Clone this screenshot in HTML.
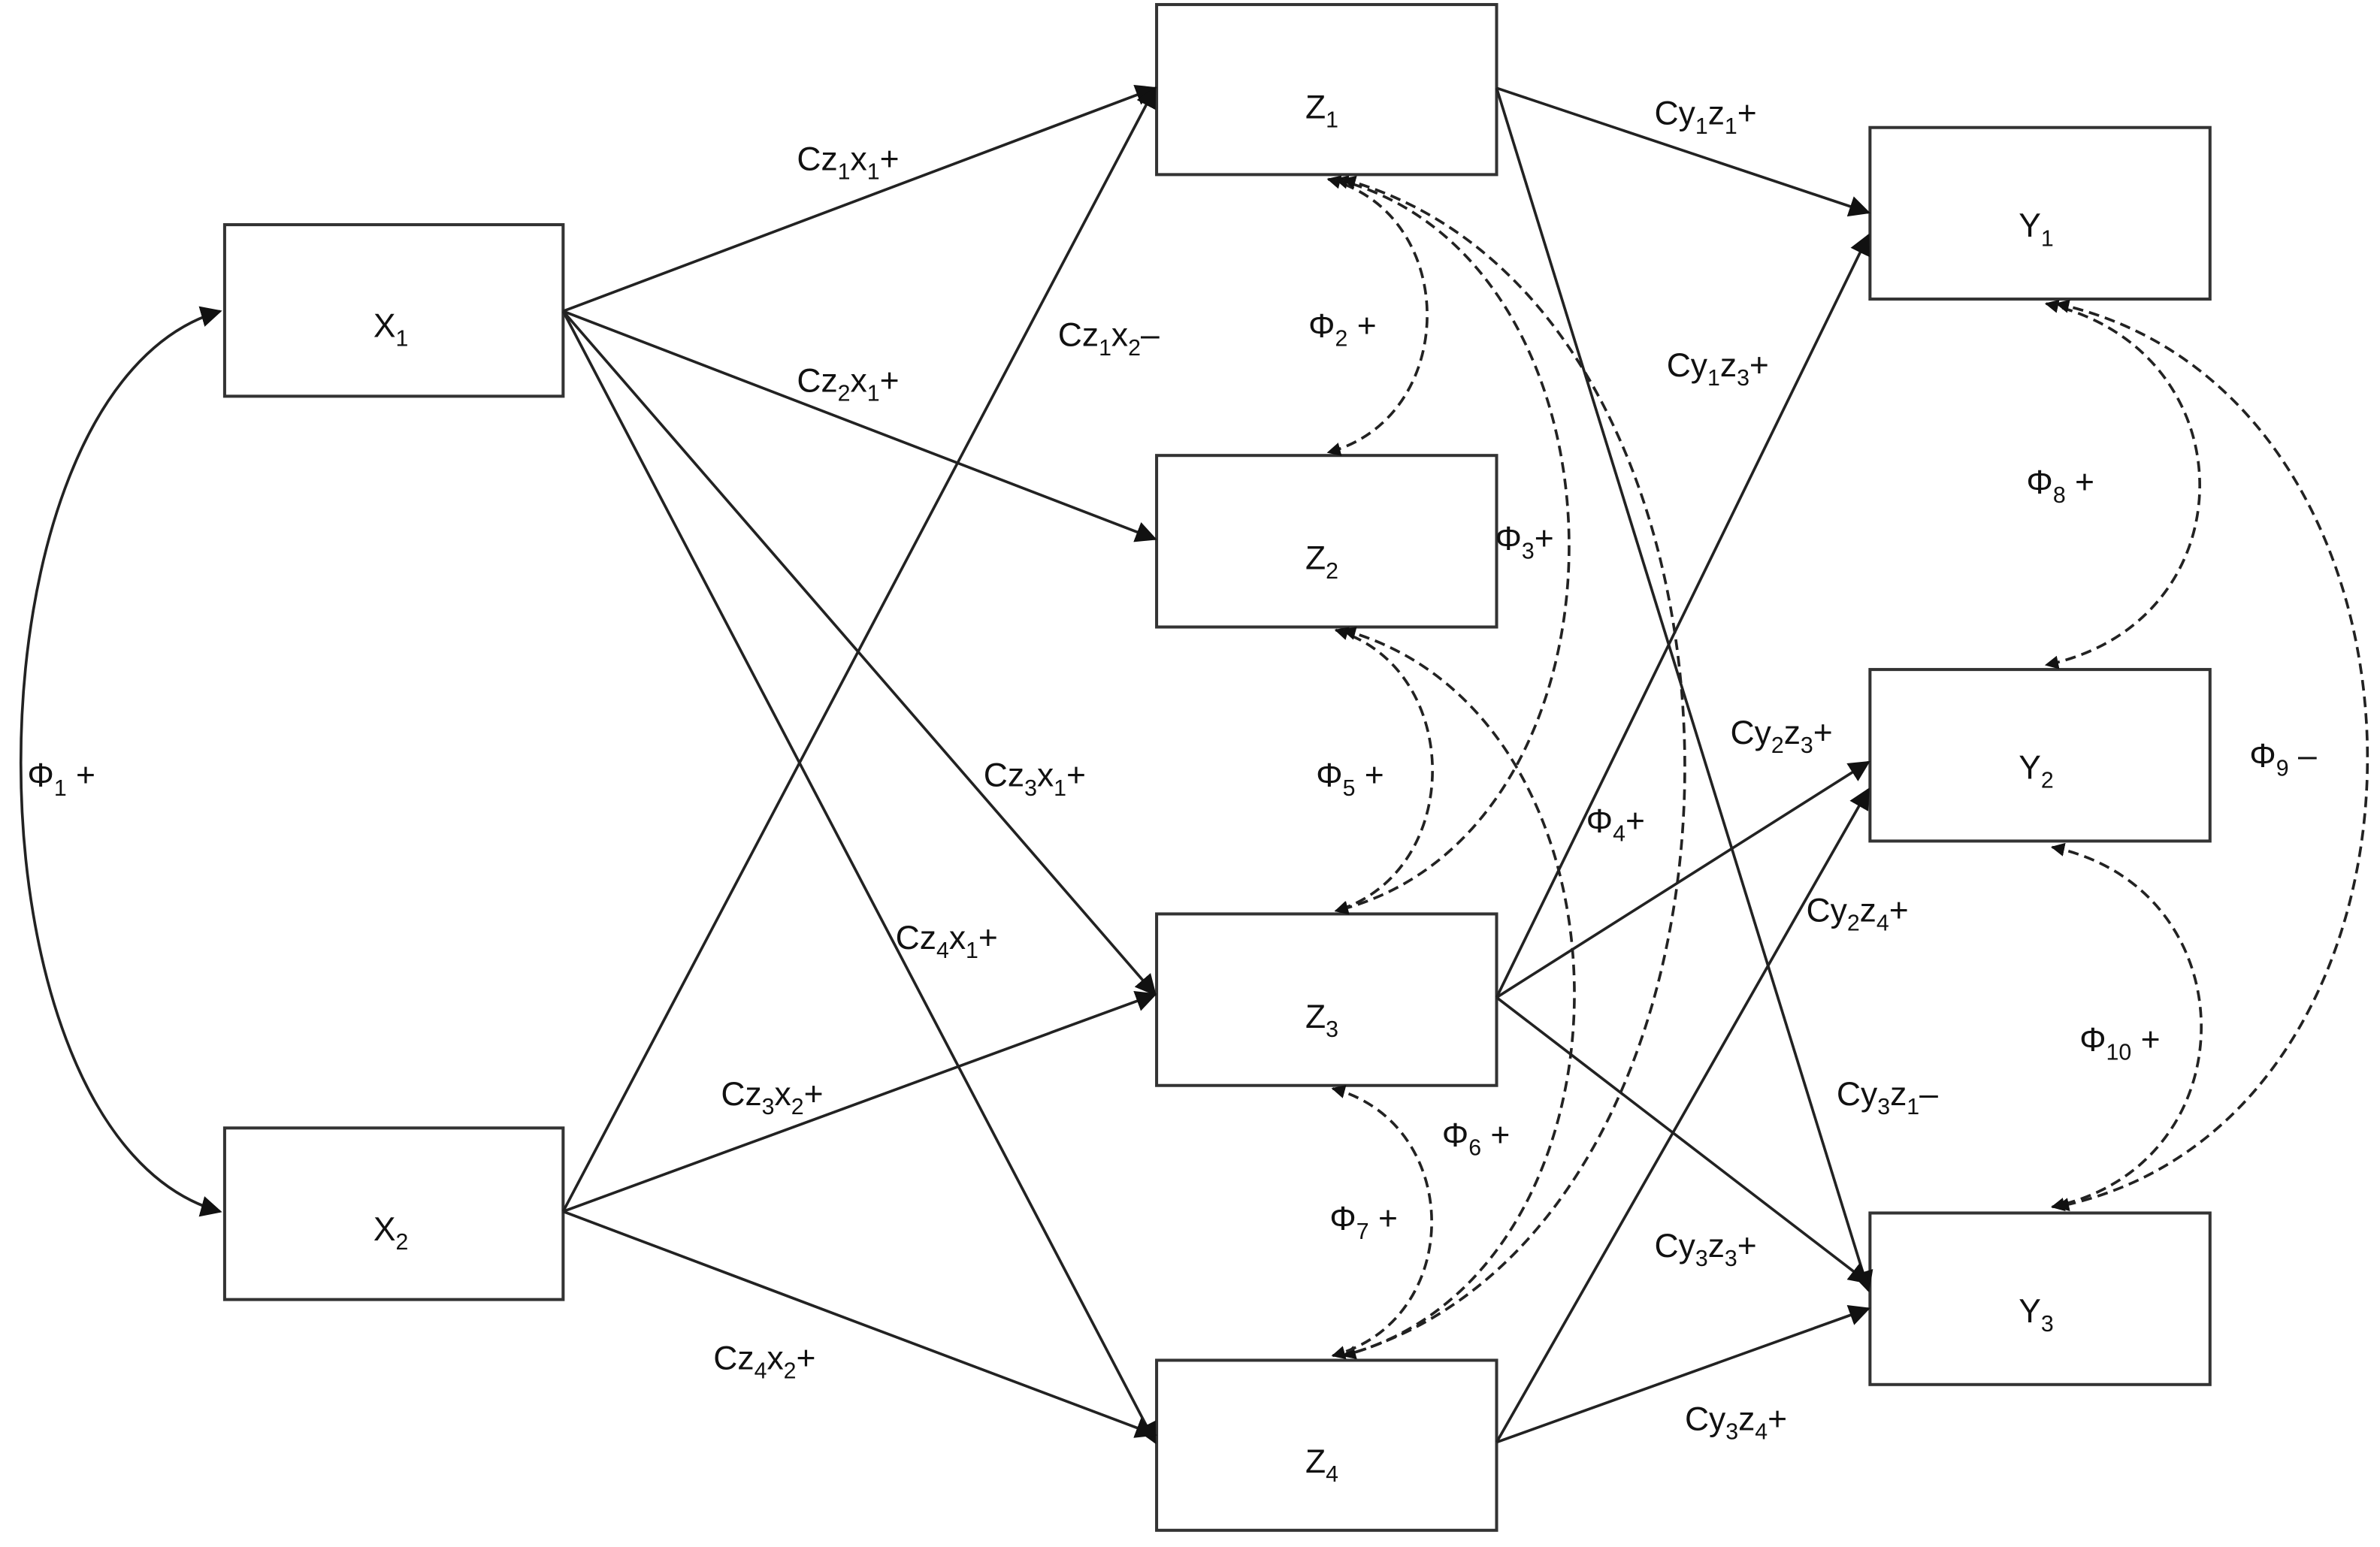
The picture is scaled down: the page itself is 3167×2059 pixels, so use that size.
<!DOCTYPE html>
<html><head><meta charset="utf-8"><style>
html,body{margin:0;padding:0;background:#fff}
svg{display:block}
text{font-family:"Liberation Sans",sans-serif;font-size:22px;fill:#111}
.s{font-size:15px}
</style></head><body>
<svg width="3167" height="2059" viewBox="0 0 1568 1019" preserveAspectRatio="none" xmlns="http://www.w3.org/2000/svg">
<defs>
<marker id="a" viewBox="0 0 10 10" refX="9" refY="5" markerWidth="9" markerHeight="9" markerUnits="userSpaceOnUse" orient="auto-start-reverse"><path d="M0,0 L10,5 L0,10 z" fill="#111"/></marker>
<marker id="b" viewBox="0 0 10 10" refX="9" refY="5" markerWidth="14" markerHeight="14" markerUnits="userSpaceOnUse" orient="auto-start-reverse"><path d="M0,0 L10,5 L0,10 z" fill="#111"/></marker>
</defs>
<g fill="#fff" stroke="#333" stroke-width="2">
<rect x="148" y="148" width="223" height="113"/>
<rect x="148" y="743" width="223" height="113"/>
<rect x="762" y="3" width="224" height="112"/>
<rect x="762" y="300" width="224" height="113"/>
<rect x="762" y="602" width="224" height="113"/>
<rect x="762" y="896" width="224" height="112"/>
<rect x="1232" y="84" width="224" height="113"/>
<rect x="1232" y="441" width="224" height="113"/>
<rect x="1232" y="799" width="224" height="113"/>
</g>
<g stroke="#222" stroke-width="1.8" fill="none" marker-end="url(#b)">
<line x1="371" y1="205" x2="761" y2="58"/>
<line x1="371" y1="205" x2="761" y2="355"/>
<line x1="371" y1="205" x2="761" y2="655"/>
<line x1="371" y1="205" x2="761" y2="950"/>
<line x1="371" y1="798" x2="761" y2="58"/>
<line x1="371" y1="798" x2="761" y2="655"/>
<line x1="371" y1="798" x2="761" y2="945"/>
<line x1="986" y1="58" x2="1231" y2="140"/>
<line x1="986" y1="58" x2="1231" y2="850"/>
<line x1="986" y1="657" x2="1231" y2="155"/>
<line x1="986" y1="657" x2="1231" y2="502"/>
<line x1="986" y1="657" x2="1231" y2="845"/>
<line x1="986" y1="950" x2="1231" y2="520"/>
<line x1="986" y1="950" x2="1231" y2="862"/>
</g>
<path d="M145,205 C-30,255 -30,750 145,798" stroke="#222" stroke-width="1.8" fill="none" marker-start="url(#b)" marker-end="url(#b)"/>
<g stroke="#222" stroke-width="1.8" fill="none" stroke-dasharray="7,4" marker-start="url(#a)" marker-end="url(#a)">
<path d="M875,118 C962,140 962,275 875,298"/>
<path d="M880,118 C1085,170 1085,550 880,600"/>
<path d="M885,118 C1185,200 1185,810 885,893"/>
<path d="M880,415 C965,440 965,575 880,600"/>
<path d="M885,415 C1088,470 1088,840 885,893"/>
<path d="M878,717 C965,740 965,870 878,893"/>
<path d="M1348,200 C1483,230 1483,410 1348,438"/>
<path d="M1352,558 C1483,585 1483,768 1352,795"/>
<path d="M1355,200 C1628,260 1628,740 1355,795"/>
</g>
<text x="246" y="222">X<tspan class="s" dy="6">1</tspan></text>
<text x="246" y="817">X<tspan class="s" dy="6">2</tspan></text>
<text x="860" y="78">Z<tspan class="s" dy="6">1</tspan></text>
<text x="860" y="375">Z<tspan class="s" dy="6">2</tspan></text>
<text x="860" y="677">Z<tspan class="s" dy="6">3</tspan></text>
<text x="860" y="970">Z<tspan class="s" dy="6">4</tspan></text>
<text x="1330" y="156">Y<tspan class="s" dy="6">1</tspan></text>
<text x="1330" y="513">Y<tspan class="s" dy="6">2</tspan></text>
<text x="1330" y="871">Y<tspan class="s" dy="6">3</tspan></text>
<text x="525" y="112">Cz<tspan class="s" dy="6">1</tspan><tspan dy="-6">x</tspan><tspan class="s" dy="6">1</tspan><tspan dy="-6">+</tspan></text>
<text x="697" y="228">Cz<tspan class="s" dy="6">1</tspan><tspan dy="-6">x</tspan><tspan class="s" dy="6">2</tspan><tspan dy="-6">–</tspan></text>
<text x="525" y="258">Cz<tspan class="s" dy="6">2</tspan><tspan dy="-6">x</tspan><tspan class="s" dy="6">1</tspan><tspan dy="-6">+</tspan></text>
<text x="648" y="518">Cz<tspan class="s" dy="6">3</tspan><tspan dy="-6">x</tspan><tspan class="s" dy="6">1</tspan><tspan dy="-6">+</tspan></text>
<text x="590" y="625">Cz<tspan class="s" dy="6">4</tspan><tspan dy="-6">x</tspan><tspan class="s" dy="6">1</tspan><tspan dy="-6">+</tspan></text>
<text x="475" y="728">Cz<tspan class="s" dy="6">3</tspan><tspan dy="-6">x</tspan><tspan class="s" dy="6">2</tspan><tspan dy="-6">+</tspan></text>
<text x="470" y="902">Cz<tspan class="s" dy="6">4</tspan><tspan dy="-6">x</tspan><tspan class="s" dy="6">2</tspan><tspan dy="-6">+</tspan></text>
<text x="1090" y="82">Cy<tspan class="s" dy="6">1</tspan><tspan dy="-6">z</tspan><tspan class="s" dy="6">1</tspan><tspan dy="-6">+</tspan></text>
<text x="1098" y="248">Cy<tspan class="s" dy="6">1</tspan><tspan dy="-6">z</tspan><tspan class="s" dy="6">3</tspan><tspan dy="-6">+</tspan></text>
<text x="1140" y="490">Cy<tspan class="s" dy="6">2</tspan><tspan dy="-6">z</tspan><tspan class="s" dy="6">3</tspan><tspan dy="-6">+</tspan></text>
<text x="1190" y="607">Cy<tspan class="s" dy="6">2</tspan><tspan dy="-6">z</tspan><tspan class="s" dy="6">4</tspan><tspan dy="-6">+</tspan></text>
<text x="1210" y="728">Cy<tspan class="s" dy="6">3</tspan><tspan dy="-6">z</tspan><tspan class="s" dy="6">1</tspan><tspan dy="-6">–</tspan></text>
<text x="1090" y="828">Cy<tspan class="s" dy="6">3</tspan><tspan dy="-6">z</tspan><tspan class="s" dy="6">3</tspan><tspan dy="-6">+</tspan></text>
<text x="1110" y="942">Cy<tspan class="s" dy="6">3</tspan><tspan dy="-6">z</tspan><tspan class="s" dy="6">4</tspan><tspan dy="-6">+</tspan></text>
<text x="18" y="518">Φ<tspan class="s" dy="6">1</tspan><tspan dy="-6"> +</tspan></text>
<text x="862" y="222">Φ<tspan class="s" dy="6">2</tspan><tspan dy="-6"> +</tspan></text>
<text x="985" y="362">Φ<tspan class="s" dy="6">3</tspan><tspan dy="-6">+</tspan></text>
<text x="1045" y="548">Φ<tspan class="s" dy="6">4</tspan><tspan dy="-6">+</tspan></text>
<text x="867" y="518">Φ<tspan class="s" dy="6">5</tspan><tspan dy="-6"> +</tspan></text>
<text x="950" y="755">Φ<tspan class="s" dy="6">6</tspan><tspan dy="-6"> +</tspan></text>
<text x="876" y="810">Φ<tspan class="s" dy="6">7</tspan><tspan dy="-6"> +</tspan></text>
<text x="1335" y="325">Φ<tspan class="s" dy="6">8</tspan><tspan dy="-6"> +</tspan></text>
<text x="1482" y="505">Φ<tspan class="s" dy="6">9</tspan><tspan dy="-6"> –</tspan></text>
<text x="1370" y="692">Φ<tspan class="s" dy="6">10</tspan><tspan dy="-6"> +</tspan></text>
</svg>
</body></html>
